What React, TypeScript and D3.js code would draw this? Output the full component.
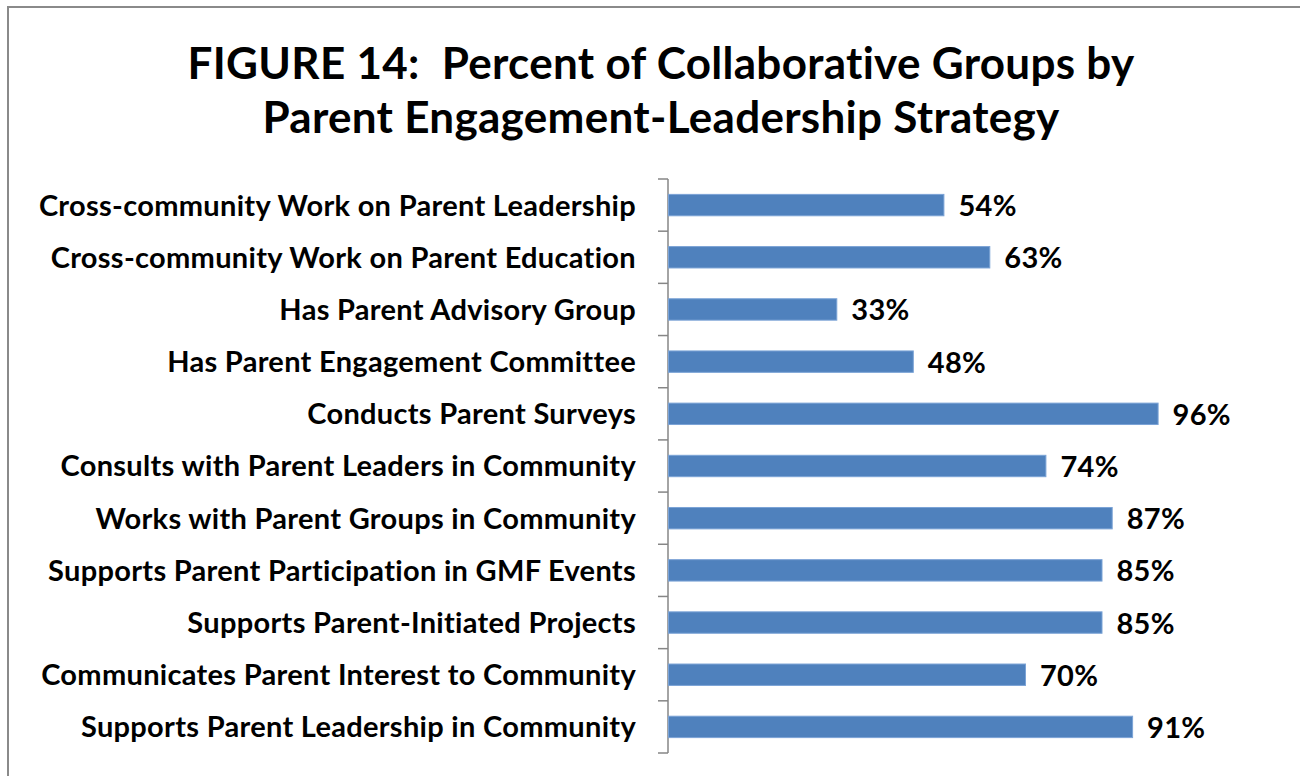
import * as d3 from "d3"

const categories = [
  "Cross-community Work on Parent Leadership",
  "Cross-community Work on Parent Education",
  "Has Parent Advisory Group",
  "Has Parent Engagement Committee",
  "Conducts Parent Surveys",
  "Consults with Parent Leaders in Community",
  "Works with Parent Groups in Community",
  "Supports Parent Participation in GMF Events",
  "Supports Parent-Initiated Projects",
  "Communicates Parent Interest to Community",
  "Supports Parent Leadership in Community",
]
const percents = [54, 63, 33, 48, 96, 74, 87, 85, 85, 70, 91]
const titleLines = [
  "FIGURE 14:\u00a0 Percent of Collaborative Groups by",
  "Parent Engagement-Leadership Strategy",
]

const font = "Lato, 'Open Sans', sans-serif"

export default function App() {
  const width = 1300
  const height = 776
  const axisX = 668
  const top = 179
  const bottom = 753

  const x = d3.scaleLinear().domain([0, 100]).range([axisX, axisX + 510])
  const y = d3
    .scaleBand<string>()
    .domain(categories)
    .range([top, bottom])
    .paddingInner(0.59)
    .paddingOuter(0.295)

  const step = (bottom - top) / categories.length
  const ticks = d3.range(categories.length + 1).map((i) => top + i * step)

  return (
    <svg
      width={width}
      height={height}
      style={{position: "absolute", left: 0, top: 0, background: "#fff"}}
    >
      <rect x={8} y={7} width={1400} height={900} fill="#fff" stroke="#8a8a8a" strokeWidth={2} />

      {titleLines.map((t, i) => (
        <text
          key={i}
          x={661}
          y={79 + i * 54}
          textAnchor="middle"
          fontFamily={font}
          fontWeight="bold"
          fontSize={44}
          letterSpacing={0.3}
          fill="#000"
        >
          {t}
        </text>
      ))}

      {/* axis */}
      <line x1={axisX} x2={axisX} y1={top} y2={bottom} stroke="#868686" strokeWidth={1.5} />
      {ticks.map((t, i) => (
        <line key={i} x1={axisX - 10} x2={axisX} y1={t} y2={t} stroke="#868686" strokeWidth={1.5} />
      ))}

      {categories.map((c, i) => {
        const by = y(c)!
        const cy = by + y.bandwidth() / 2
        return (
          <g key={c}>
            <text
              x={636}
              y={cy}
              dy="0.36em"
              textAnchor="end"
              fontFamily={font}
              fontWeight="bold"
              fontSize={29}
              letterSpacing={0.3}
              fill="#000"
            >
              {c}
            </text>
            <rect
              x={x(0) + 0.5}
              y={by}
              width={x(percents[i]) - x(0)}
              height={y.bandwidth()}
              fill="#4F81BD"
              stroke="#7ba3d6"
              strokeWidth={1}
            />
            <text
              x={x(percents[i]) + 15}
              y={cy}
              dy="0.38em"
              fontFamily={font}
              fontWeight="bold"
              fontSize={29}
              letterSpacing={0.3}
              fill="#000"
            >
              {percents[i]}%
            </text>
          </g>
        )
      })}
    </svg>
  )
}
